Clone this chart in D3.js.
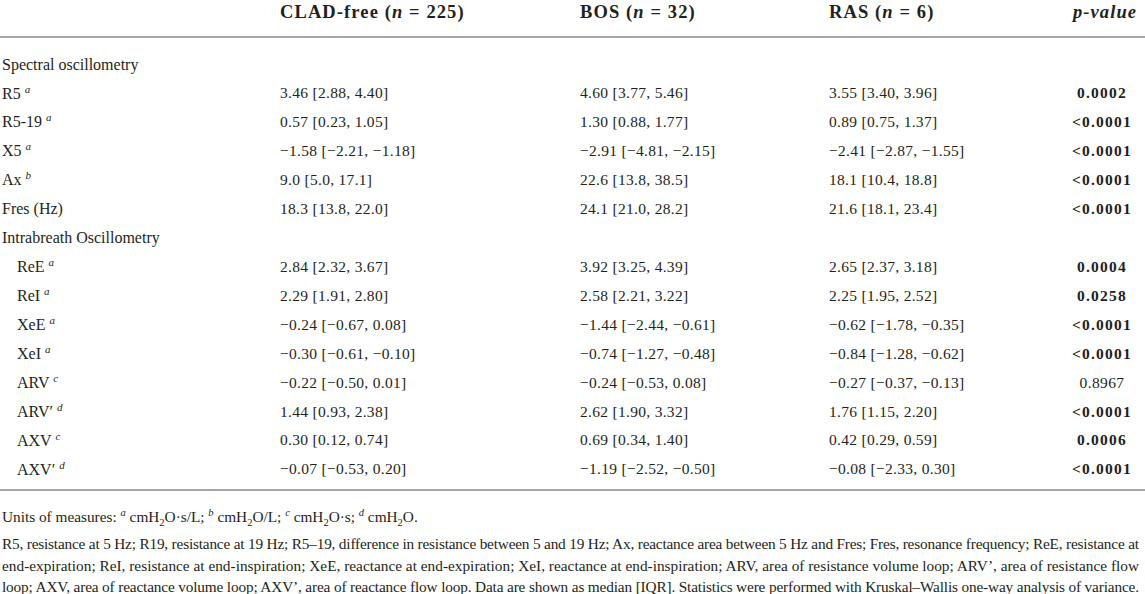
<!DOCTYPE html>
<html><head><meta charset="utf-8">
<script src="https://cdn.jsdelivr.net/npm/d3@7"></script>
<style>
body{margin:0;background:#fff}
svg{display:block}
text{font-family:"Liberation Serif","Times New Roman",serif;fill:#231f20}
</style>
</head><body><svg id="chart" width="1145" height="594"></svg>
<script>
// ---------- data ----------
const groupNames = ["CLAD-free", "BOS", "RAS"];
const groupN = [225, 32, 6];
const sections = ["Spectral oscillometry", "Intrabreath Oscillometry"];
const measures = ["R5", "R5-19", "X5", "Ax", "Fres (Hz)", "ReE", "ReI", "XeE", "XeI", "ARV", "ARV′", "AXV", "AXV′"];
const measureSection = [0, 0, 0, 0, 0, 1, 1, 1, 1, 1, 1, 1, 1];
const unitMarks = ["a", "a", "a", "b", "", "a", "a", "a", "a", "c", "d", "c", "d"];
const cladFree = ["3.46 [2.88, 4.40]", "0.57 [0.23, 1.05]", "−1.58 [−2.21, −1.18]", "9.0 [5.0, 17.1]", "18.3 [13.8, 22.0]", "2.84 [2.32, 3.67]", "2.29 [1.91, 2.80]", "−0.24 [−0.67, 0.08]", "−0.30 [−0.61, −0.10]", "−0.22 [−0.50, 0.01]", "1.44 [0.93, 2.38]", "0.30 [0.12, 0.74]", "−0.07 [−0.53, 0.20]"];
const bos = ["4.60 [3.77, 5.46]", "1.30 [0.88, 1.77]", "−2.91 [−4.81, −2.15]", "22.6 [13.8, 38.5]", "24.1 [21.0, 28.2]", "3.92 [3.25, 4.39]", "2.58 [2.21, 3.22]", "−1.44 [−2.44, −0.61]", "−0.74 [−1.27, −0.48]", "−0.24 [−0.53, 0.08]", "2.62 [1.90, 3.32]", "0.69 [0.34, 1.40]", "−1.19 [−2.52, −0.50]"];
const ras = ["3.55 [3.40, 3.96]", "0.89 [0.75, 1.37]", "−2.41 [−2.87, −1.55]", "18.1 [10.4, 18.8]", "21.6 [18.1, 23.4]", "2.65 [2.37, 3.18]", "2.25 [1.95, 2.52]", "−0.62 [−1.78, −0.35]", "−0.84 [−1.28, −0.62]", "−0.27 [−0.37, −0.13]", "1.76 [1.15, 2.20]", "0.42 [0.29, 0.59]", "−0.08 [−2.33, 0.30]"];
const pValues = ["0.0002", "<0.0001", "<0.0001", "<0.0001", "<0.0001", "0.0004", "0.0258", "<0.0001", "<0.0001", "0.8967", "<0.0001", "0.0006", "<0.0001"];
const pSignificant = [true, true, true, true, true, true, true, true, true, false, true, true, true];
const pHeader = "p-value";
const footnoteUnits = "Units of measures: ^a cmH_2O·s/L; ^b cmH_2O/L; ^c cmH_2O·s; ^d cmH_2O.";
const footnoteLines = [
  "R5, resistance at 5 Hz; R19, resistance at 19 Hz; R5–19, difference in resistance between 5 and 19 Hz; Ax, reactance area between 5 Hz and Fres; Fres, resonance frequency; ReE, resistance at",
  "end-expiration; ReI, resistance at end-inspiration; XeE, reactance at end-expiration; XeI, reactance at end-inspiration; ARV, area of resistance volume loop; ARV’, area of resistance flow",
  "loop; AXV, area of reactance volume loop; AXV’, area of reactance flow loop. Data are shown as median [IQR]. Statistics were performed with Kruskal–Wallis one-way analysis of variance."
];

// ---------- layout ----------
const W = 1145, H = 594;
const svg = d3.select("#chart");
const valueCols = [cladFree, bos, ras];

// rows: section headers interleaved with measures
const rows = [];
sections.forEach((s, si) => {
  rows.push({key: "s" + si, type: "section", label: s});
  measures.forEach((m, i) => {
    if (measureSection[i] === si) rows.push({key: "m" + i, type: "measure", i, section: si});
  });
});

const y = d3.scalePoint().domain(rows.map(r => r.key)).range([64, 469]);
const colKeys = ["label", ...groupNames, "p"];
const x = d3.scaleOrdinal().domain(colKeys).range([2, 280, 580, 829, 1102]);

const ruleColor = "#a7a7a7";
svg.append("line").attr("x1", 0).attr("x2", W).attr("y1", 37).attr("y2", 37)
  .attr("stroke", ruleColor).attr("stroke-width", 2);
svg.append("line").attr("x1", 0).attr("x2", W).attr("y1", 490).attr("y2", 490)
  .attr("stroke", ruleColor).attr("stroke-width", 2);

// column headers
const hdr = svg.append("g").attr("font-weight", "bold").attr("font-size", 18.5)
  .attr("letter-spacing", "1.1px");
groupNames.forEach((g, i) => {
  const t = hdr.append("text").attr("x", x(g)).attr("y", 18);
  t.append("tspan").text(g + " (");
  t.append("tspan").attr("font-style", "italic").text("n");
  t.append("tspan").text(" = " + groupN[i] + ")");
});
hdr.append("text").attr("x", x("p") + 3).attr("y", 18).attr("text-anchor", "middle")
  .attr("font-style", "italic").text(pHeader);

// body rows
const body = svg.append("g").attr("font-size", 16);
rows.forEach(r => {
  const yy = y(r.key);
  if (r.type === "section") {
    body.append("text").attr("x", x("label")).attr("y", yy).attr("dy", "0.35em").text(r.label);
    return;
  }
  const i = r.i;
  const lx = x("label") + (r.section === 1 ? 15 : 0);
  const t = body.append("text").attr("x", lx).attr("y", yy).attr("dy", "0.35em");
  t.append("tspan").text(measures[i]);
  if (unitMarks[i]) {
    t.append("tspan").text(" ");
    t.append("tspan").attr("font-style", "italic").attr("font-size", 11).attr("dy", -6).text(unitMarks[i]);
  }
  valueCols.forEach((col, c) => {
    body.append("text").attr("x", x(groupNames[c])).attr("y", yy).attr("dy", "0.35em")
      .attr("font-size", 15.5).attr("letter-spacing", "0.3px").text(col[i]);
  });
  body.append("text").attr("x", x("p")).attr("y", yy).attr("dy", "0.35em")
    .attr("text-anchor", "middle")
    .attr("font-size", 15.5)
    .attr("font-weight", pSignificant[i] ? "bold" : "normal")
    .attr("letter-spacing", pSignificant[i] ? "1.2px" : "0.4px")
    .text(pValues[i]);
});

// footnotes
const foot = svg.append("g").attr("font-size", 15.3);
const fu = foot.append("text").attr("x", 2).attr("y", 522);
let shift = 0;
footnoteUnits.split(/(\^[a-d]|_2)/).forEach(part => {
  if (!part) return;
  if (part[0] === "^") {
    fu.append("tspan").attr("font-style", "italic").attr("font-size", 10.5)
      .attr("dy", -6 - shift).text(part[1]);
    shift = -6;
  } else if (part[0] === "_") {
    fu.append("tspan").attr("font-size", 10.5).attr("dy", 4 - shift).text(part[1]);
    shift = 4;
  } else {
    fu.append("tspan").attr("dy", -shift).text(part);
    shift = 0;
  }
});
footnoteLines.forEach((ln, k) => {
  foot.append("text").attr("x", 2).attr("y", 549 + k * 21.5)
    .attr("textLength", 1137).attr("lengthAdjust", "spacing").text(ln);
});
</script>
</body></html>
